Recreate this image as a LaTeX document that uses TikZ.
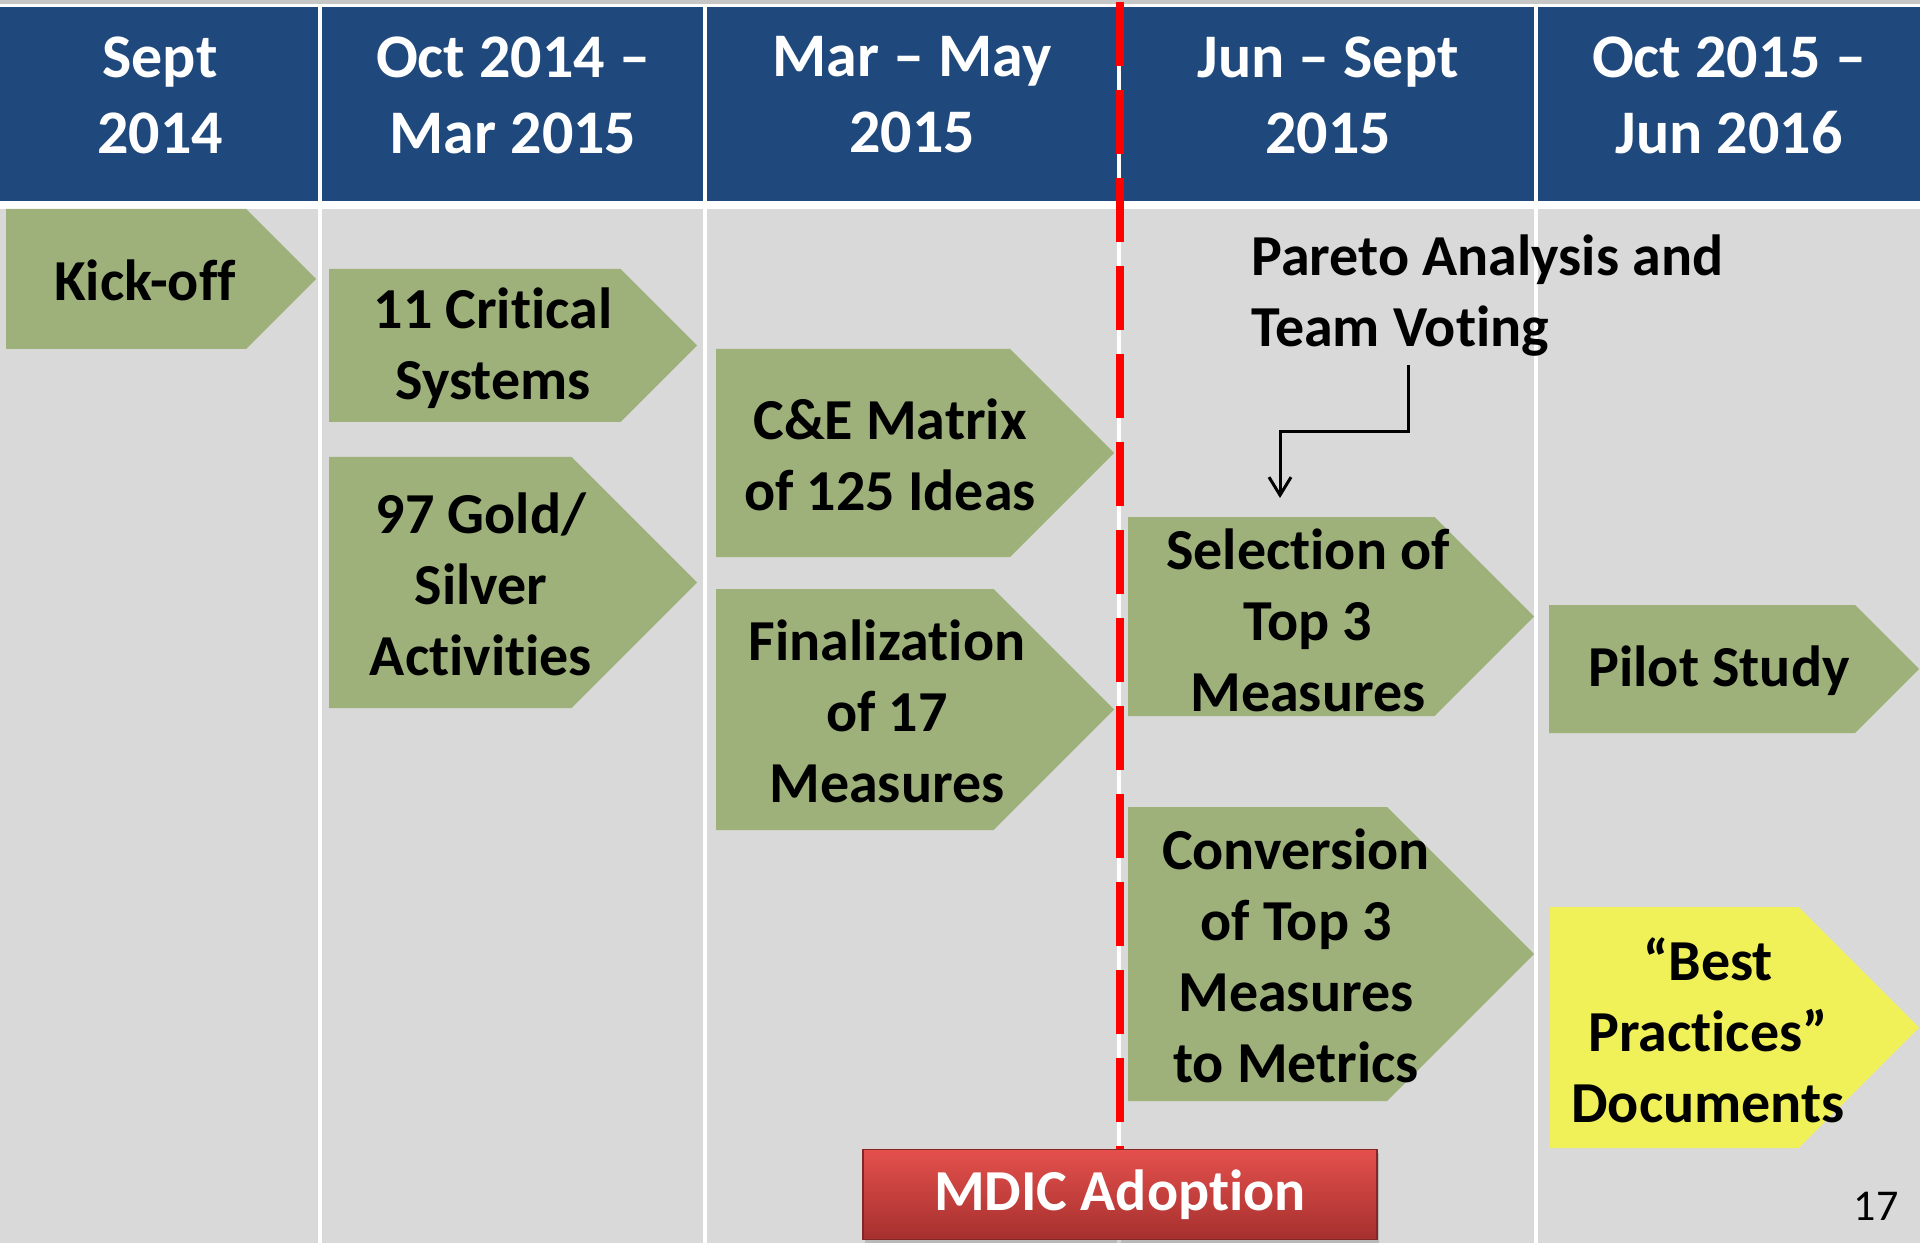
\documentclass[tikz,border=0pt]{standalone}
\usepackage{fontspec}
\setmainfont{Carlito}[RawFeature={-liga;-clig;-calt;-dlig}]
\usetikzlibrary{arrows.meta, shadows}

\definecolor{hdrblue}{RGB}{31,73,125}
\definecolor{lanegray}{RGB}{217,217,217}
\definecolor{stagegreen}{RGB}{158,177,122}
\definecolor{bestyellow}{RGB}{240,240,88}
\definecolor{cutred}{RGB}{255,0,0}
\definecolor{btntop}{RGB}{228,80,76}
\definecolor{btnbot}{RGB}{165,48,46}

% keep t and i apart
\newcommand{\tbi}{t\kern0pt i}

% pentagon arrow: [fill] left, top, tip, bottom
\newcommand{\chev}[5][stagegreen]{%
  \fill[#1] (#2,#3) -- ({#4-(#5-#3)/2},#3) -- (#4,{(#3+#5)/2})
    -- ({#4-(#5-#3)/2},#5) -- (#2,#5) -- cycle;}

\begin{document}
\begin{tikzpicture}[
    x=0.5pt, y=-0.5pt,
    hdr/.style={font=\fontsize{31}{38}\selectfont\bfseries, text=white, align=center, inner sep=0pt},
    stage/.style={font=\fontsize{29}{35.5}\selectfont\bfseries, align=center, inner sep=0pt},
    note/.style={font=\fontsize{29}{35.5}\selectfont\bfseries, align=left, inner sep=0pt},
    pointer/.style={line width=1.5pt, -{Straight Barb[length=9pt, width=11pt]}},
    cutline/.style={cutred, line width=4pt, dash pattern=on 32pt off 12pt},
    button/.style={draw=btnbot!80!black, line width=0.6pt, top color=btntop, bottom color=btnbot,
        drop shadow={opacity=0.35, shadow xshift=1pt, shadow yshift=-1.5pt},
        minimum width=257pt, minimum height=45pt, font=\fontsize{29}{35.5}\selectfont\bfseries, text=white}
]
\useasboundingbox (0,0) rectangle (1920,1245);

% Backdrop
\fill[gray!45] (0,0) rectangle (1920,4);
\fill[lanegray] (0,209) rectangle (1920,1243);
\fill[hdrblue] (0,7) rectangle (1920,201);
\foreach \xs in {320,705,1119,1536}
  \draw[white, line width=2pt] (\xs,7) -- (\xs,1245);

% Header labels
\foreach \x/\name/\txt in {
    160/hdsep/{Sept\\2014},
    513/hdoct/{Oct 2014 –\\Mar 2015},
    912/hdmar/{Mar – May\\2015},
    1328/hdjun/{Jun – Sept\\2015},
    1729/hdnext/{Oct 2015 –\\Jun 2016}} {
    \node[hdr] (\name) at (\x,95) {\txt};
}

% Stage arrows
\chev{6}{209}{316}{349}
\chev{329}{269}{697}{422}
\chev{329}{457}{697}{708}
\chev{716}{349}{1114}{557}
\chev{716}{589}{1114}{830}
\chev{1128}{517}{1534}{716}
\chev{1128}{807}{1534}{1101}
\chev{1549}{605}{1919}{733}
\chev[bestyellow]{1550}{907}{1919}{1148}

\node[stage] (kickoff) at (145,280) {Kick-off};
\node[stage] (critical) at (493,348) {11 Cri\tbi cal\\Systems};
\node[stage] (gold) at (481,584) {97 Gold/\\Silver\\Ac\tbi vi\tbi es};
\node[stage] (cematrix) at (890,455) {C\&E Matrix\\of 125 Ideas};
\node[stage] (final) at (887,711) {Finalization\\of 17\\Measures};
\node[stage] (select) at (1308,620) {Selection of\\Top 3\\Measures};
\node[stage] (convert) at (1296,956) {Conversion\\of Top 3\\Measures\\to Metrics};
\node[stage] (pilot) at (1719,671) {Pilot Study};
\node[stage] (best) at (1708,1030) {“Best\\Practices”\\Documents};

% Pareto note
\node[note, anchor=west] (pareto) at (1251,296) {Pareto Analysis and\\Team Vo\tbi ng};
\coordinate (tap) at (1408,365);
\coordinate (drop) at (1280,498);
\draw[pointer] (tap) -- ++(0,67) -| (drop);

% Adoption cut
\coordinate (cuttop) at (1120,2);
\coordinate (cutfoot) at (1120,1149);
\draw[cutline] (cuttop) -- (cutfoot);
\node[button, anchor=north] (mdic) at (cutfoot) {MDIC Adop\tbi on};

\node[font=\fontsize{22}{26}\selectfont] (pageno) at (1876,1206) {17};

\end{tikzpicture}
\end{document}
